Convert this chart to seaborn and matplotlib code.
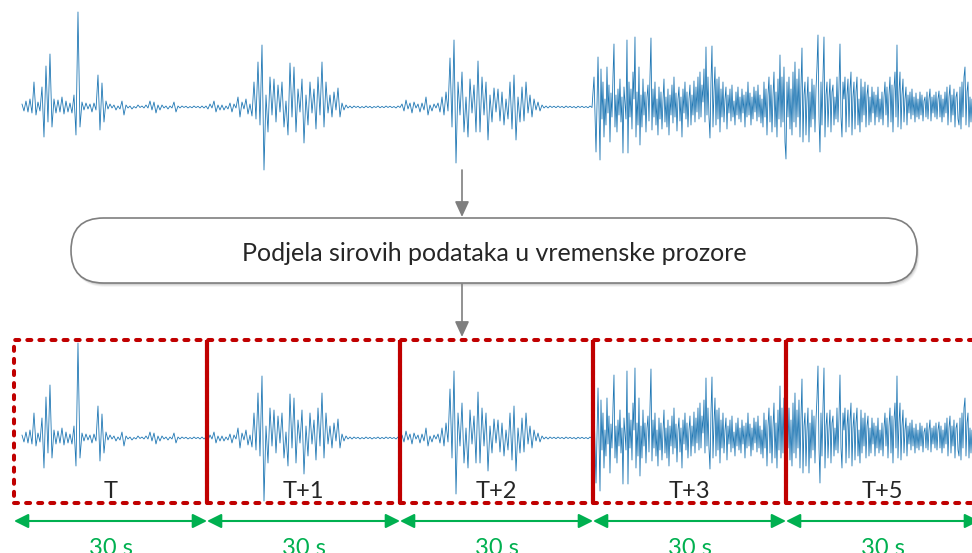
import numpy as np
import pandas as pd
import matplotlib
matplotlib.use("Agg")
import matplotlib.pyplot as plt
import seaborn as sns
from matplotlib.patches import FancyBboxPatch, Rectangle, FancyArrowPatch

sns.set_theme(style="white")
plt.rcParams["font.family"] = ["Lato", "DejaVu Sans"]

#%%
# raw signal, amplitude (arbitrary units)
# first part (quiet + short bursts), sampled more coarsely
signal_a = [
    3, -4, 6, -5, 8, -6, 25, -8, 5, -4,
    20, -30, 41, -15, 53, -20, 8, -6, 7, -5,
    10, -7, 6, -5, 4, -6, 12, -28, 95, -20,
    5, -3, 4, -2, 3, -5, 4, -3, 32, -23,
    24, -15, 6, -2, 3, -1, 2, -3, 1, -2,
    6, -8, 2, -1, 1, -2, 0.5, -1, 2, -0.5,
    1, -1, 2, -1, 6, -3, 5, -6, 2, -3,
    2, -1, 1, -2, 1, -1, 5, -5, 1, -1,
    1, -0.5, 0.8, -1, 0.5, -0.8, 1, -0.6, 0.7, -1,
    1, -1, 1, -2, 3, -1, 6, -5, 2, -3,
    2, -3, 1, -2, 4, -5, 3, -1, 10, -10,
    5, -2, 8, -7, 3, -9, 25, -12, 45, -18,
    62, -63, 12, -25, 30, -8, 28, -15, 22, -5,
    25, -20, 6, -28, 44, -10, 40, -25, 18, -5,
    28, -36, 12, -18, 25, -6, 18, -22, 30, -8,
    45, -20, 25, -6, 12, -10, 15, -3, 19, -10,
    4, -3, 2, -1, 1, -1, 1, -0.5, 0.8, -1,
    0.5, -0.8, 1, -0.6, 0.7, -1, 0.5, -0.5, 1, -0.8,
    0.6, -0.7, 1, -0.5, 0.8, -0.6, 0.5, -1, 1, -0.5,
    3, -4, 7, -2, 4, -6, 5, -1, 3, -5,
    4, -3, 10, -8, 2, -4, 3, -1, 4, -5,
    10, -8, 15, -4, 49, -20, 67, -56, 25, -8,
    35, -25, 10, -30, 28, -6, 22, -25, 46, -25,
    30, -8, 25, -33, 12, -15, 19, -5, 18, -14,
    15, -18, 8, -12, 25, -22, 32, -33, 10, -15,
    20, -14, 25, -6, 12, -10, 8, -3, 5, -4,
    2, -1, 1, -1, 1, -0.5, 0.8, -0.7, 1, -0.5,
    0.6, -0.8, 1, -0.5, 0.7, -0.6, 0.5, -1, 0.8, -0.5,
    0.7, -0.6, 0.5, -0.8, 1, -0.5, 30, -45, 50, -53,
]
# second part (continuous strong activity), sampled finer
signal_b = [
    38, -12, 25, -30, 8, -18, 40, -6, 22, -35, 14, -10, 30, 63, -20, 12, -25, 18, -8, 28,
    -15, 10, -46, 20, 5, -12, 67, -46, 25, -10, 18, -22, 35, 8, 70, -30, 15, -18, 40, -38,
    12, -20, 28, -8, 15, -25, 10, 22, -14, 30, 69, -23, 18, -10, 25, -18, 8, -28, 20, -12,
    15, -22, 6, 28, -15, 10, -20, 18, -28, 12, -8, 22, -16, 30, -10, 14, -24, 8, 20, -14,
    10, -30, 18, -6, 25, -12, 15, -20, 8, 22, -18, 12, -8, 26, -15, 20, -5, 30, -12, 35,
    -10, 22, 5, 38, -15, 60, -8, 30, -10, -31, 25, 61, -20, 15, 40, -18, 28, -12, 30, -25,
    18, -10, 25, -15, 8, 20, -22, 12, -6, 18, -14, 22, -10, 6, -18, 15, -8, 20, -12, 10,
    -15, 18, -6, 12, -20, 15, -10, 25, -8, 14, -18, 10, -12, 20, -5, 16, -14, 22, -10, 12,
    -16, 8, -20, 25, -10, 18, -28, 12, 30, -15, 22, -25, 10, 35, -20, 15, -30, 28, -12, 52,
    -20, 30, -15, 40, -35, -52, 25, -10, 30, -22, 18, -28, 35, -15, 45, -20, 28, -10, 38, -30,
    20, 59, -35, 12, 25, -28, 8, 30, -35, 15, -20, 28, -12, 22, -25, 18, 40, 72, -10, -45,
    25, -18, 30, 70, -30, 12, 25, -20, 8, 28, -25, 15, 22, -18, 10, -12, 30, -15, 20, 63,
    -10, -30, 25, 8, 30, -25, 12, 28, -20, 18, 35, -28, 10, 25, -22, 15, 30, -18, 8, -25,
    28, -15, 20, -8, 25, -20, 12, 22, -18, 10, -15, 20, -6, 15, -18, 12, -10, 20, -15, 8,
    -12, 15, -18, 10, 25, -8, 20, -20, 12, 30, -15, 22, -25, 18, 35, -10, 62, -20, 15, 35,
    -22, 12, 28, -15, 8, 20, -18, 12, -6, 15, -12, 18, -8, 10, -15, 14, -10, 8, -12, 15,
    -8, 12, -14, 6, 10, -10, 15, -12, 8, 18, -14, 10, -6, 12, -10, 15, -12, 8, 16, -10,
    12, -15, 8, -10, 15, -6, 20, -18, 10, 22, -15, 12, -8, 18, -20, 10, 15, -12, -18, 20,
    -22, 25, -10, 30, 40, -18, 15, 25, -20, 10, -15, 8,
]
t_a = (1.24, 91.09)      # seconds covered by signal_a
t_b = (91.24, 148.91)    # seconds covered by signal_b
windows = [0, 30, 60, 90, 120, 150]
window_labels = ["T", "T+1", "T+2", "T+3", "T+5"]
duration_label = "30 s"
step_text = "Podjela sirovih podataka u vremenske prozore"

df = pd.DataFrame({
    "t": np.concatenate([np.linspace(*t_a, len(signal_a)), np.linspace(*t_b, len(signal_b))]),
    "amp": signal_a + signal_b,
})

#%%
W, H = 972, 553
fig = plt.figure(figsize=(W / 100, H / 100), dpi=100, facecolor="white")

# canvas in pixel units for the flow part
ax = fig.add_axes([0, 0, 1, 1])
ax.set_xlim(0, W)
ax.set_ylim(H, 0)
ax.axis("off")


def px_axes(x0, y0, x1, y1):
    return fig.add_axes([x0 / W, 1 - y1 / H, (x1 - x0) / W, (y1 - y0) / H])


ax_top = px_axes(14, 7, 979, 207)
ax_bot = px_axes(14, 338, 979, 553)

for a in (ax_top, ax_bot):
    sns.lineplot(data=df, x="t", y="amp", ax=a, color="#1f77b4", linewidth=0.6, legend=False)
    a.set_xlim(windows[0], windows[-1])
    a.axis("off")
ax_top.set_ylim(-100, 100)
ax_bot.set_ylim(-115, 100)

# arrows + step box
gray = "#7f7f7f"
for y0, y1 in [(170, 217), (284, 337)]:
    ax.annotate("", xy=(462, y1), xytext=(462, y0),
                arrowprops=dict(arrowstyle="-|>,head_length=0.94,head_width=0.43",
                                mutation_scale=10, color=gray, lw=1.2,
                                shrinkA=0, shrinkB=0))

for off, al in [(1, 0.10), (2, 0.08), (3, 0.06), (4, 0.04)]:
    ax.add_patch(FancyBboxPatch((71 + off * 0.6, 218 + off), 846, 65,
                                boxstyle="round,pad=0,rounding_size=32.5",
                                fc="black", ec="none", alpha=al))
ax.add_patch(FancyBboxPatch((71, 218), 846, 65, boxstyle="round,pad=0,rounding_size=32.5",
                            fc="white", ec=gray, lw=1.2))
ax.text(494, 261, step_text, ha="center", va="baseline", fontsize=18, color="#262626")

# time windows
red = "#C00000"
green = "#00B050"
for w0, w1, lab in zip(windows[:-1], windows[1:], window_labels):
    ax_bot.add_patch(Rectangle((w0, -65), w1 - w0, 163, fill=False, edgecolor=red,
                               lw=2.9, linestyle=(0, (1, 2)), capstyle="round", clip_on=False))
    ax_bot.text((w0 + w1) / 2, -60, lab, ha="center", va="baseline", fontsize=17, color="#262626")
    ax_bot.add_patch(FancyArrowPatch((w0, -83), (w1, -83),
                                     arrowstyle="<|-|>,head_length=0.86,head_width=0.43",
                                     mutation_scale=10, color=green, lw=1.5,
                                     shrinkA=0, shrinkB=0, clip_on=False))
    ax_bot.text((w0 + w1) / 2, -117, duration_label, ha="center", va="baseline",
                fontsize=17, color=green, clip_on=False)
ax_bot.vlines(windows[1:-1], -65, 98, colors=red, lw=3)

fig.savefig("out.png", dpi=100, facecolor="white")
